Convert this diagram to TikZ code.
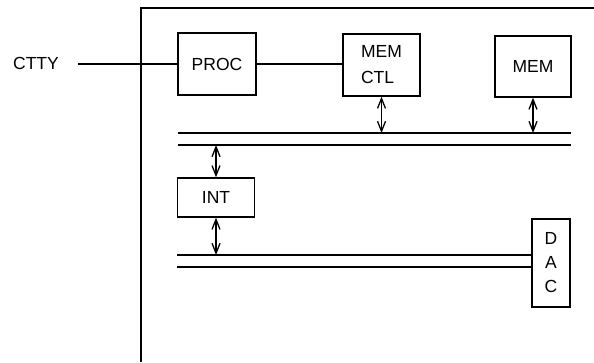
\documentclass[tikz,border=0pt]{standalone}
\usepackage{fontspec}
\setmainfont{Liberation Sans}
\usetikzlibrary{
	positioning,
	arrows.meta
}

\begin{document}
\begin{tikzpicture}[
	x=1pt,y=1pt,
	line width=1.3pt,
	unitbox/.style={
		draw,
		line width=1.3pt,
		inner sep=0pt,
		font=\fontsize{17.5}{26}\selectfont
	},
	busline/.style={line width=1.3pt},
	bothway/.style={
		{Straight Barb[length=10pt,width=8pt]}-{Straight Barb[length=10pt,width=8pt]},
		line width=1.3pt
	}
	]
	
	\useasboundingbox (0,0) rectangle (594,362);
	
	% frame
	\draw (141,0) -- (141,354) -- (594,354);
	
	% units
	\node[unitbox, minimum width=78pt, minimum height=62pt] (PROC) at (217,298) {PROC};
	\node[unitbox, minimum width=77pt, minimum height=62pt, align=left] (MEMCTL) at (381.5,297) {MEM\\CTL};
	\node[unitbox, minimum width=76pt, minimum height=61pt] (MEM) at (533,295.5) {MEM};
	\node[unitbox, minimum width=77pt, minimum height=39pt] (INT) at (216,164.5) {INT};
	\node[unitbox, minimum width=38pt, minimum height=88pt, align=center, font=\fontsize{17.5}{24}\selectfont] (DAC) at (551,99) {D\\A\\C};
	
	\node[font=\fontsize{17.5}{20}\selectfont, inner sep=0pt] (CTTY) at (36,299) {CTTY};
	
	% bus ends
	\coordinate (BUSAtl) at (178,229);
	\coordinate (BUSAtr) at (571,229);
	\coordinate (BUSAbl) at (178,217);
	\coordinate (BUSAbr) at (571,217);
	\coordinate (BUSBtl) at (177,107);
	\coordinate (BUSBbl) at (177,95);
	\coordinate (CTTYend) at (78,298);
	
	% buses
	\draw[busline] (BUSAtl) -- (BUSAtr);
	\draw[busline] (BUSAbl) -- (BUSAbr);
	\draw[busline] (BUSBtl) -- (BUSBtl -| DAC.west);
	\draw[busline] (BUSBbl) -- (BUSBbl -| DAC.west);
	
	% links
	\draw (CTTYend) -- (PROC.west);
	\draw (PROC.east) -- (PROC.east -| MEMCTL.west);
	
	\draw[bothway] (MEMCTL.south) -- (MEMCTL.south |- BUSAtl);
	\draw[bothway] (MEM.south) -- (MEM.south |- BUSAtl);
	\draw[bothway] (INT.north) -- (INT.north |- BUSAbl);
	\draw[bothway] (INT.south) -- (INT.south |- BUSBtl);
	
\end{tikzpicture}
\end{document}
